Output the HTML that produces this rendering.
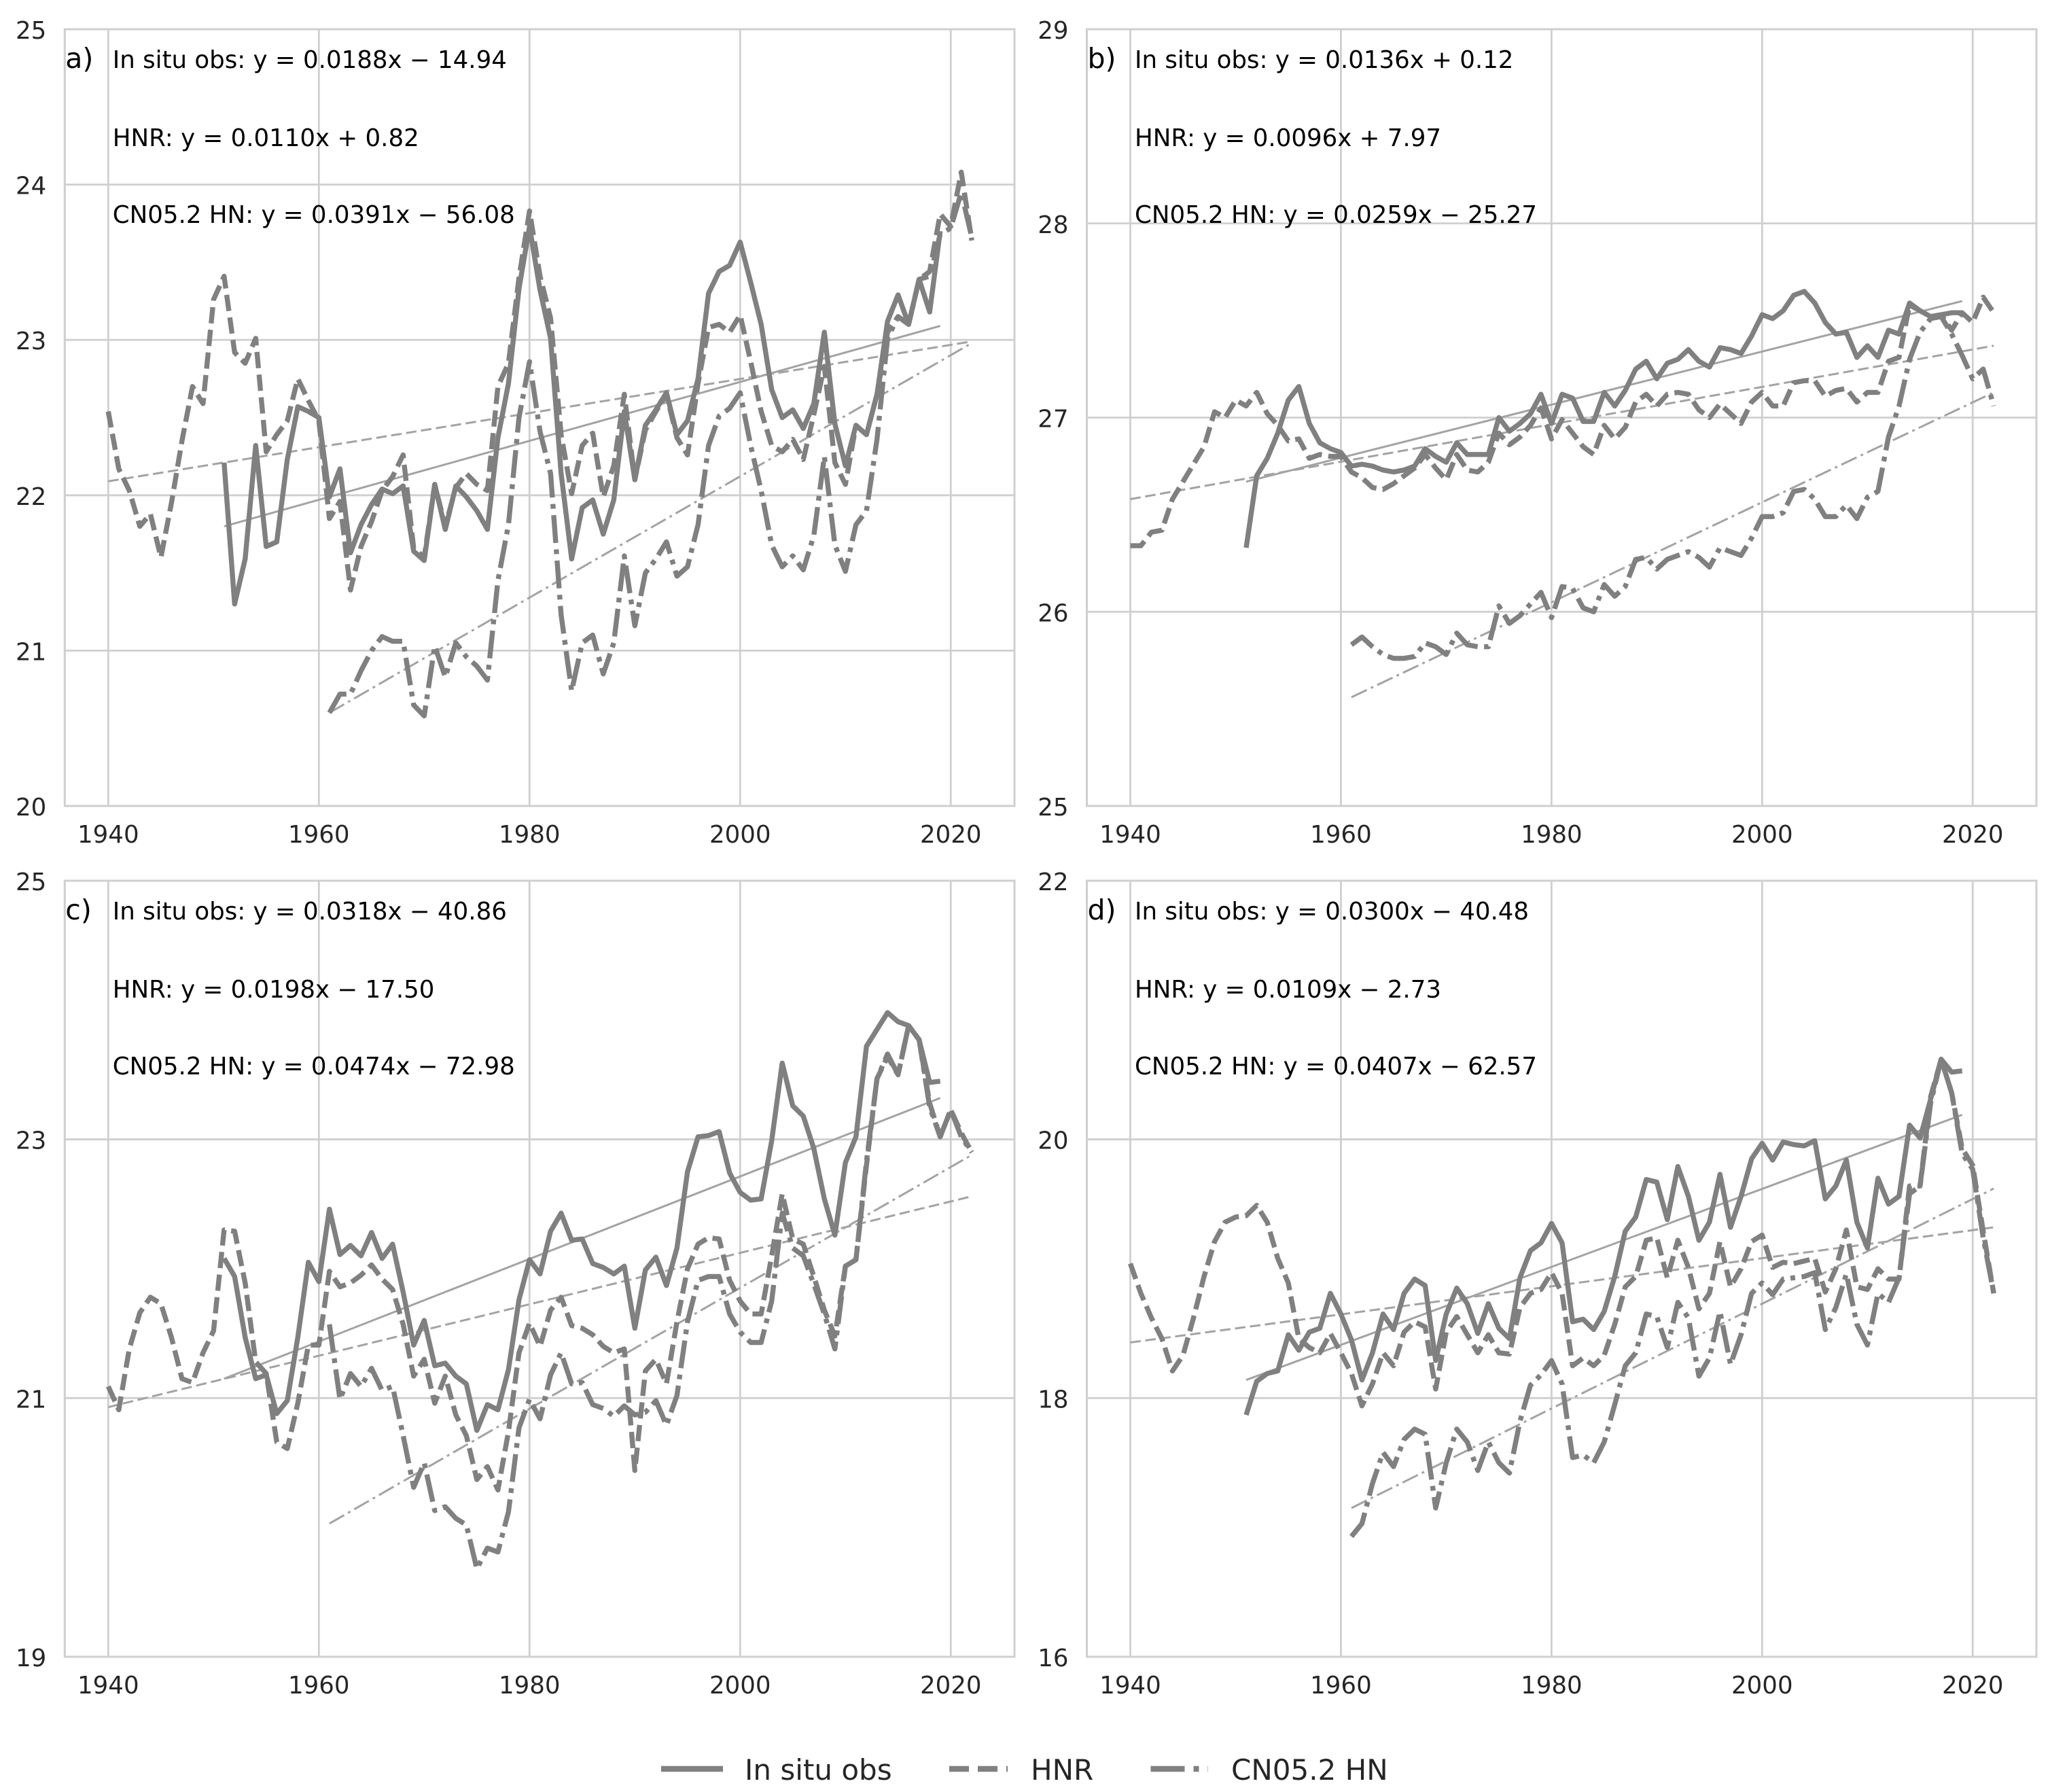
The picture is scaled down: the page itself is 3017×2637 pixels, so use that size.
<!DOCTYPE html>
<html lang="en">
<head>
<meta charset="utf-8">
<title>Temperature series panels</title>
<style>
html,body{margin:0;padding:0;background:#fff}
svg{display:block}
text{font-family:"DejaVu Sans","Liberation Sans",sans-serif}
</style>
</head>
<body>
<svg id="figure" xmlns="http://www.w3.org/2000/svg" width="3017" height="2637" viewBox="0 0 3017 2637">
<rect x="0" y="0" width="3017" height="2637" fill="#ffffff"/>
</svg>
<script>
// ---- Shared axis data ----
const xTicks = [1940, 1960, 1980, 2000, 2020];
const obsStartYear = 1951;
const hnrStartYear = 1940;
const cnStartYear = 1961;
const obsTrendYears = [1951, 2019];
const hnrTrendYears = [1940, 2022];
const cnTrendYears = [1961, 2022];
const legendLabels = ['In situ obs', 'HNR', 'CN05.2 HN'];

// ---- Panel a ----
const aYTicks = [20, 21, 22, 23, 24, 25];
const aEquations = ['In situ obs: y = 0.0188x \u2212 14.94', 'HNR: y = 0.0110x + 0.82', 'CN05.2 HN: y = 0.0391x \u2212 56.08'];
const aObs = [22.21,21.3,21.59,22.32,21.67,21.7,22.23,22.57,22.54,
22.5,21.99,22.17,21.63,21.81,21.94,22.04,22.01,22.06,21.64,
21.58,22.07,21.78,22.06,21.99,21.9,21.78,22.37,22.72,23.33,
23.73,23.32,23.01,22.14,21.59,21.92,21.97,21.75,21.97,22.54,
22.1,22.45,22.55,22.66,22.39,22.48,22.75,23.3,23.44,23.48,
23.63,23.37,23.1,22.68,22.5,22.55,22.43,22.59,23.05,22.46,
22.19,22.45,22.39,22.65,23.12,23.29,23.1,23.39,23.18,23.7];
const aHnr = [22.54,22.17,22.03,21.8,21.88,21.6,21.95,22.35,22.7,22.59,
23.26,23.41,22.92,22.85,23.01,22.28,22.39,22.48,22.75,22.61,
22.48,21.85,21.96,21.39,21.67,21.83,22.03,22.12,22.26,21.66,
21.6,22.07,21.8,22.05,22.14,22.07,22.03,22.7,22.85,23.4,
23.83,23.41,23.14,22.39,22.01,22.32,22.4,21.99,22.19,22.65,
22.1,22.42,22.54,22.65,22.37,22.26,22.72,23.08,23.1,23.05,
23.16,22.86,22.54,22.32,22.28,22.36,22.23,22.52,22.83,22.21,
22.07,22.45,22.39,22.65,23.05,23.15,23.1,23.39,23.44,23.81,
23.73,24.08,23.64];
const aCn = [20.6,20.72,20.72,20.87,21.0,21.09,21.06,21.06,20.65,
20.58,21.03,20.83,21.05,20.96,20.9,20.81,21.45,21.81,22.5,
22.86,22.41,22.14,21.23,20.74,21.05,21.1,20.85,21.05,21.61,
21.16,21.5,21.59,21.7,21.48,21.54,21.81,22.32,22.51,22.56,
22.66,22.32,22.03,21.68,21.54,21.61,21.52,21.74,22.25,21.68,
21.51,21.81,21.9,22.36,23.01,23.15,23.1,23.39,23.41,23.68,
23.72,23.95,23.66];
const aObsTrend = [21.8, 23.09];
const aHnrTrend = [22.09, 22.99];
const aCnTrend = [20.6, 22.98];

// ---- Panel b ----
const bYTicks = [25, 26, 27, 28, 29];
const bEquations = ['In situ obs: y = 0.0136x + 0.12', 'HNR: y = 0.0096x + 7.97', 'CN05.2 HN: y = 0.0259x \u2212 25.27'];
const bObs = [26.33,26.7,26.79,26.92,27.09,27.16,26.97,26.87,26.84,
26.82,26.75,26.76,26.75,26.73,26.72,26.73,26.75,26.84,26.8,
26.77,26.87,26.81,26.81,26.81,27.0,26.93,26.97,27.02,27.12,
26.97,27.12,27.1,26.98,26.98,27.13,27.06,27.14,27.25,27.29,
27.2,27.28,27.3,27.35,27.29,27.26,27.36,27.35,27.33,27.42,
27.53,27.51,27.55,27.63,27.65,27.59,27.49,27.43,27.44,27.31,
27.37,27.31,27.45,27.43,27.59,27.55,27.52,27.53,27.54,27.54];
const bHnr = [26.34,26.34,26.41,26.42,26.58,26.67,26.76,26.85,27.03,27.0,
27.09,27.06,27.13,27.02,26.96,26.88,26.89,26.79,26.81,26.8,
26.8,26.72,26.69,26.64,26.63,26.66,26.7,26.74,26.81,26.74,
26.68,26.81,26.73,26.72,26.77,26.92,26.86,26.9,26.96,27.05,
26.89,26.99,26.92,26.85,26.81,26.96,26.89,26.95,27.08,27.12,
27.06,27.12,27.13,27.12,27.04,27.0,27.07,27.02,26.97,27.08,
27.13,27.06,27.06,27.18,27.19,27.19,27.11,27.14,27.15,27.08,
27.13,27.13,27.29,27.31,27.58,27.55,27.52,27.53,27.45,27.54,
27.49,27.62,27.54];
const bCn = [25.83,25.87,25.82,25.78,25.76,25.76,25.77,25.84,25.82,
25.78,25.89,25.83,25.82,25.82,26.03,25.94,25.98,26.04,26.1,
25.97,26.13,26.12,26.02,26.0,26.14,26.08,26.13,26.27,26.28,
26.22,26.27,26.29,26.31,26.28,26.23,26.33,26.31,26.29,26.38,
26.49,26.49,26.51,26.62,26.63,26.58,26.49,26.49,26.55,26.48,
26.59,26.62,26.9,27.06,27.3,27.44,27.51,27.52,27.43,27.32,
27.2,27.25,27.06];
const bObsTrend = [26.67, 27.6];
const bHnrTrend = [26.58, 27.37];
const bCnTrend = [25.56, 27.13];

// ---- Panel c ----
const cYTicks = [19, 21, 23, 25];
const cEquations = ['In situ obs: y = 0.0318x \u2212 40.86', 'HNR: y = 0.0198x \u2212 17.50', 'CN05.2 HN: y = 0.0474x \u2212 72.98'];
const cObs = [22.08,21.94,21.47,21.15,21.18,20.88,20.98,21.47,22.05,
21.9,22.46,22.11,22.18,22.1,22.28,22.08,22.19,21.82,21.41,
21.6,21.25,21.27,21.17,21.11,20.75,20.95,20.91,21.22,21.76,
22.07,21.96,22.29,22.43,22.22,22.23,22.04,22.01,21.96,22.02,
21.54,21.99,22.09,21.87,22.16,22.75,23.02,23.03,23.06,22.74,
22.59,22.53,22.54,22.99,23.59,23.26,23.18,22.93,22.54,22.26,
22.82,23.02,23.72,23.85,23.98,23.91,23.88,23.77,23.44,23.45];
const cHnr = [21.09,20.91,21.38,21.66,21.78,21.73,21.47,21.15,21.12,21.35,
21.52,22.3,22.29,21.89,21.28,21.19,20.66,20.61,20.96,21.41,
21.41,21.98,21.86,21.89,21.95,22.03,21.92,21.84,21.57,21.17,
21.3,20.96,21.17,20.87,20.71,20.37,20.47,20.29,20.74,21.35,
21.58,21.4,21.68,21.78,21.56,21.54,21.49,21.4,21.35,21.38,
20.44,21.21,21.3,21.11,21.59,22.0,22.19,22.24,22.23,21.91,
21.75,21.65,21.65,22.1,22.58,22.23,22.19,21.94,21.68,21.48,
22.02,22.07,22.8,23.47,23.64,23.5,23.88,23.77,23.28,23.02,
23.23,23.05,22.9];
const cCn = [21.57,20.99,21.19,21.09,21.23,21.06,21.09,20.71,20.31,
20.5,20.13,20.16,20.07,20.02,19.68,19.84,19.81,20.12,20.77,
20.99,20.84,21.18,21.35,21.11,21.12,20.95,20.92,20.86,20.94,
20.87,20.89,20.98,20.79,21.02,21.59,21.91,21.94,21.94,21.65,
21.51,21.43,21.43,21.75,22.43,22.16,22.1,21.88,21.65,21.38,
22.02,22.07,22.83,23.47,23.66,23.5,23.88,23.77,23.25,23.02,
23.23,23.02,22.9];
const cObsTrend = [21.15, 23.32];
const cHnrTrend = [20.93, 22.56];
const cCnTrend = [20.03, 22.88];

// ---- Panel d ----
const dYTicks = [16, 18, 20, 22];
const dEquations = ['In situ obs: y = 0.0300x \u2212 40.48', 'HNR: y = 0.0109x \u2212 2.73', 'CN05.2 HN: y = 0.0407x \u2212 62.57'];
const dObs = [17.87,18.13,18.19,18.21,18.49,18.37,18.51,18.54,18.81,
18.65,18.45,18.14,18.35,18.65,18.53,18.81,18.92,18.87,18.29,
18.65,18.85,18.73,18.5,18.73,18.54,18.46,18.93,19.14,19.2,
19.35,19.2,18.59,18.61,18.53,18.67,18.94,19.29,19.4,19.69,
19.67,19.38,19.79,19.56,19.22,19.36,19.73,19.32,19.56,19.85,
19.97,19.84,19.98,19.96,19.95,19.99,19.54,19.64,19.84,19.36,
19.16,19.7,19.5,19.56,20.11,20.01,20.31,20.62,20.52,20.53];
const dHnr = [19.04,18.81,18.62,18.46,18.21,18.33,18.62,18.94,19.21,19.36,
19.4,19.41,19.49,19.36,19.08,18.89,18.46,18.39,18.35,18.5,
18.35,18.19,17.94,18.11,18.35,18.25,18.51,18.59,18.55,18.07,
18.51,18.63,18.49,18.35,18.49,18.35,18.34,18.7,18.81,18.84,
18.97,18.81,18.25,18.31,18.25,18.33,18.57,18.86,18.94,19.22,
19.24,18.93,19.22,19.01,18.69,18.81,19.21,18.86,19.0,19.21,
19.26,19.01,19.05,19.04,19.06,19.08,18.82,19.0,19.3,18.86,
18.84,19.0,18.92,18.92,19.64,19.64,20.33,20.62,20.36,19.93,
19.8,19.29,18.81];
const dCn = [16.93,17.03,17.34,17.58,17.47,17.68,17.76,17.72,17.15,
17.5,17.76,17.66,17.44,17.66,17.5,17.42,17.82,18.1,18.18,
18.29,18.11,17.54,17.56,17.5,17.66,17.95,18.25,18.35,18.65,
18.63,18.39,18.74,18.62,18.17,18.31,18.67,18.26,18.49,18.81,
18.89,18.8,18.92,18.93,18.94,18.97,18.53,18.7,18.96,18.57,
18.41,18.81,18.74,18.93,19.58,19.64,20.28,20.62,20.36,19.89,
19.77,19.24,18.81];
const dObsTrend = [18.14, 20.19];
const dHnrTrend = [18.43, 19.32];
const dCnTrend = [17.15, 19.62];

// ---- Layout and style (not data) ----
const xDomainMin = 1935.87;
const xDomainMax = 2026.05;
const SVGNS = 'http://www.w3.org/2000/svg';
const root = document.getElementById('figure');
const MARK = '#808080';
const TREND = '#a3a3a3';
const GRID = '#cfcfcf';
const TICKTXT = '#262626';
const FONT = 35.6;
const SERIESW = 7.4;
const DASH = '24 9.5';
const DASHDOT = '41 9.5 7 9.5';
const TDASH = '15.5 6.7';
const TDASHDOT = '25 6.5 4 6.5';

function make(tag, attrs, parent) {
  const el = document.createElementNS(SVGNS, tag);
  for (const k in attrs) el.setAttribute(k, attrs[k]);
  parent.appendChild(el);
  return el;
}
function xAxis(box, year) {
  return box.left + (year - xDomainMin) / (xDomainMax - xDomainMin) * (box.right - box.left);
}
function yAxis(box, yTicks, value) {
  const lo = yTicks[0];
  const hi = yTicks[yTicks.length - 1];
  return box.bottom - (value - lo) / (hi - lo) * (box.bottom - box.top);
}
function pathFrom(box, yTicks, startYear, values) {
  let d = '';
  for (let i = 0; i < values.length; i++) {
    d += (i ? 'L' : 'M') + xAxis(box, startYear + i).toFixed(1) + ' ' + yAxis(box, yTicks, values[i]).toFixed(1);
  }
  return d;
}

function drawPanel(id, box, yTicks, equations, obs, hnr, cn, obsTrend, hnrTrend, cnTrend) {
  const g = make('g', {}, root);
  
  

  // gridlines
  xTicks.forEach(function (t) {
    const x = xAxis(box, t);
    const line = make('line', {x1: x, x2: x, y1: box.top, y2: box.bottom, stroke: GRID, 'stroke-width': 2.8}, g);
    
    
    const label = make('text', {x: x, y: box.bottom + 54, 'text-anchor': 'middle', 'font-size': FONT, fill: TICKTXT}, g);
    label.textContent = String(t);
    
    
  });
  yTicks.forEach(function (t) {
    const y = yAxis(box, yTicks, t);
    const line = make('line', {x1: box.left, x2: box.right, y1: y, y2: y, stroke: GRID, 'stroke-width': 2.8}, g);
    
    
    const label = make('text', {x: box.left - 27, y: y + 14, 'text-anchor': 'end', 'font-size': FONT, fill: TICKTXT}, g);
    label.textContent = String(t);
    
    
  });
  const frame = make('rect', {x: box.left, y: box.top, width: box.right - box.left, height: box.bottom - box.top, fill: 'none', stroke: GRID, 'stroke-width': 3}, g);
  
  

  // trend lines
  const t1 = make('line', {x1: xAxis(box, obsTrendYears[0]), x2: xAxis(box, obsTrendYears[1]), y1: yAxis(box, yTicks, obsTrend[0]), y2: yAxis(box, yTicks, obsTrend[1]), stroke: TREND, 'stroke-width': 3}, g);
  
  
  const t2 = make('line', {x1: xAxis(box, hnrTrendYears[0]), x2: xAxis(box, hnrTrendYears[1]), y1: yAxis(box, yTicks, hnrTrend[0]), y2: yAxis(box, yTicks, hnrTrend[1]), stroke: TREND, 'stroke-width': 3, 'stroke-dasharray': TDASH}, g);
  
  
  const t3 = make('line', {x1: xAxis(box, cnTrendYears[0]), x2: xAxis(box, cnTrendYears[1]), y1: yAxis(box, yTicks, cnTrend[0]), y2: yAxis(box, yTicks, cnTrend[1]), stroke: TREND, 'stroke-width': 3, 'stroke-dasharray': TDASHDOT}, g);
  
  

  // series
  const s1 = make('path', {d: pathFrom(box, yTicks, obsStartYear, obs), fill: 'none', stroke: MARK, 'stroke-width': SERIESW, 'stroke-linejoin': 'round'}, g);
  
  
  const s2 = make('path', {d: pathFrom(box, yTicks, hnrStartYear, hnr), fill: 'none', stroke: MARK, 'stroke-width': SERIESW, 'stroke-linejoin': 'round', 'stroke-dasharray': DASH}, g);
  
  
  const s3 = make('path', {d: pathFrom(box, yTicks, cnStartYear, cn), fill: 'none', stroke: MARK, 'stroke-width': SERIESW, 'stroke-linejoin': 'round', 'stroke-dasharray': DASHDOT}, g);
  
  

  // annotations
  const letter = make('text', {x: box.left + 1, y: box.top + 57, 'font-size': 41, fill: '#000'}, g);
  letter.textContent = id + ')';
  
  
  const rowOffsets = [57, 172, 285];
  equations.forEach(function (eq, i) {
    const t = make('text', {x: box.left + 70.5, y: box.top + rowOffsets[i], 'font-size': FONT, fill: '#000'}, g);
    t.textContent = eq;
    
    
  });
}

drawPanel('a', {left: 95.3, right: 1493, top: 43, bottom: 1186}, aYTicks, aEquations, aObs, aHnr, aCn, aObsTrend, aHnrTrend, aCnTrend);
drawPanel('b', {left: 1599.5, right: 2997, top: 43, bottom: 1186}, bYTicks, bEquations, bObs, bHnr, bCn, bObsTrend, bHnrTrend, bCnTrend);
drawPanel('c', {left: 95.3, right: 1493, top: 1296, bottom: 2438}, cYTicks, cEquations, cObs, cHnr, cCn, cObsTrend, cHnrTrend, cCnTrend);
drawPanel('d', {left: 1599.5, right: 2997, top: 1296, bottom: 2438}, dYTicks, dEquations, dObs, dHnr, dCn, dObsTrend, dHnrTrend, dCnTrend);

// legend
const legend = make('g', {}, root);


const legendDash = ['none', '29 13', '50 13 8 13'];
const legendLineStart = [973, 1397, 1693.5];
const legendLineEnd = [1064, 1483, 1778];
const legendTextStart = [1096, 1517, 1812];
legendLabels.forEach(function (label, i) {
  const line = make('line', {x1: legendLineStart[i], x2: legendLineEnd[i], y1: 2603, y2: 2603, stroke: MARK, 'stroke-width': 8.5, 'stroke-dasharray': legendDash[i]}, legend);
  
  
  const text = make('text', {x: legendTextStart[i], y: 2619, 'font-size': 42, fill: TICKTXT}, legend);
  text.textContent = label;
  
  
});
</script>
</body>
</html>
